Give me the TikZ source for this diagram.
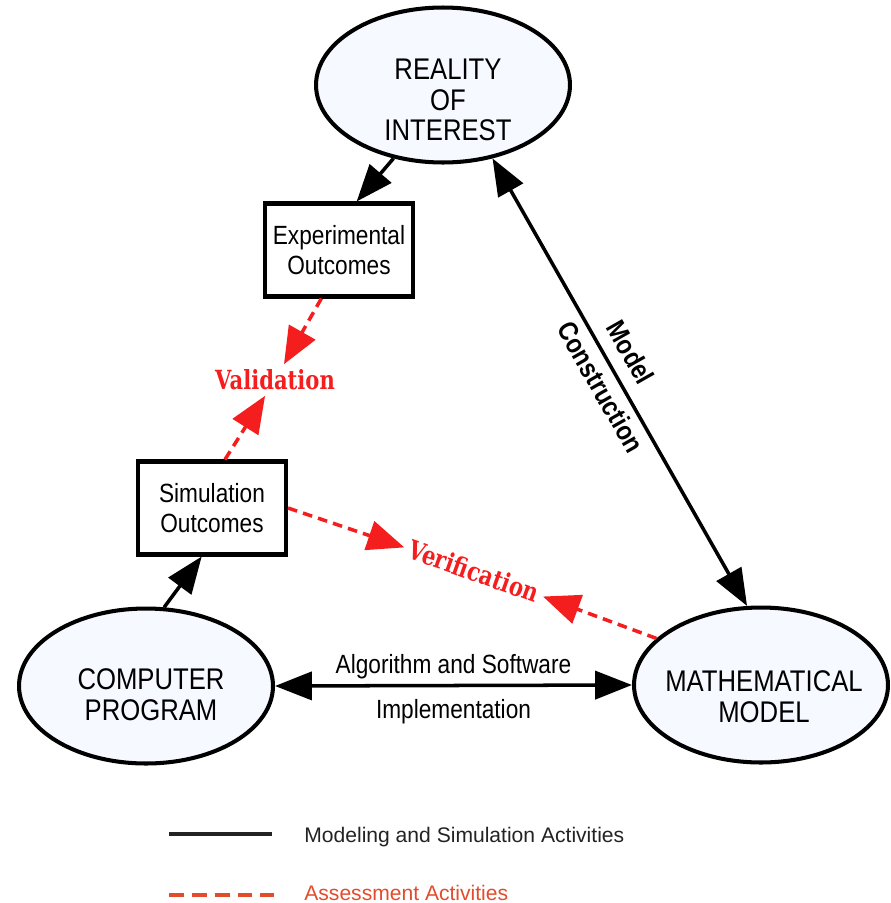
\documentclass[tikz,border=0pt]{standalone}
\usepackage{fontspec}
\setmainfont{Liberation Sans}
\newfontfamily\narrowfont{Liberation Sans}[FakeStretch=0.86]
\newfontfamily\stampfont{DejaVu Serif}[FakeStretch=0.8]
\usetikzlibrary{positioning, calc, shapes.geometric, arrows.meta}

\definecolor{bubblefill}{RGB}{246,249,255}
\definecolor{checkred}{RGB}{245,30,30}
\definecolor{keyred}{RGB}{226,76,44}
\definecolor{keytext}{RGB}{35,35,35}

\begin{document}
\begin{tikzpicture}[x=0.02cm, y=-0.02cm,
        bubble/.style={ellipse, draw, line width=2.3pt, fill=bubblefill, minimum width=5.08cm, minimum height=3.1cm, inner sep=0pt},
        bubbletext/.style={align=center, inner sep=0pt, font=\narrowfont\fontsize{17}{17.5}\selectfont},
        outbox/.style={rectangle, draw, line width=2.3pt, fill=white, minimum width=2.96cm, minimum height=1.86cm, align=center, font=\narrowfont\fontsize{15}{17}\selectfont},
        flow/.style={line width=2pt, -{Triangle[length=21pt, width=16pt]}},
        twoway/.style={line width=2pt, {Triangle[length=21pt, width=16pt]}-{Triangle[length=21pt, width=16pt]}},
        check/.style={checkred, line width=2pt, dash pattern=on 5.5pt off 3.5pt, -{Triangle[length=21pt, width=17pt]}},
        checklabel/.style={text=checkred, inner sep=3pt, font=\stampfont\bfseries\fontsize{15}{18}\selectfont},
        edgetext/.style={inner sep=1pt, font=\narrowfont\fontsize{15}{17}\selectfont},
        keylabel/.style={anchor=base west, inner sep=0pt, font=\fontsize{12}{14}\selectfont}]

        \useasboundingbox (0,0) rectangle (890,903);

        % the three models
        \node[bubble] (real) at (443,85) {};
        \node[bubbletext] (realtext) at (448,100) {REALITY\\OF\\INTEREST};
        \node[bubble] (comp) at (146,686) {};
        \node[bubbletext] (comptext) at (151,695) {COMPUTER\\PROGRAM};
        \node[bubble] (math) at (761,685) {};
        \node[bubbletext] (mathtext) at (764,697) {MATHEMATICAL\\MODEL};

        % outcomes
        \node[outbox] (exp) at (339,250) {Experimental\\Outcomes};
        \node[outbox] (sim) at (212,508) {Simulation\\Outcomes};

        % modeling and simulation activities
        \draw[flow] (real.-124) -- (exp.70);
        \draw[flow] (comp.77) -- (sim.-102);
        \draw[twoway] (comp.east) -- (math.west)
            node[midway, above=2pt, edgetext] {Algorithm and Software}
            node[midway, below=6pt, edgetext] {Implementation};
        \draw[twoway] (real.-56) -- (math.100)
            node[pos=0.46, sloped, above=6pt, edgetext, font=\narrowfont\bfseries\fontsize{15.5}{17}\selectfont] {Model}
            node[pos=0.49, sloped, below=3pt, edgetext, font=\narrowfont\bfseries\fontsize{15.5}{17}\selectfont] {Construction};

        % assessment activities
        \node[checklabel] (val) at (275,380) {Validation};
        \node[checklabel, rotate=-19.5] (ver) at (474,571) {Verification};
        \draw[check] (exp.250) -- (val);
        \draw[check] (sim.75) -- (val);
        \draw[check] (sim.east) -- (ver);
        \draw[check] (math.156) -- (ver);

        % legend
        \coordinate (keyA) at (169,834);
        \coordinate (keyB) at (272,834);
        \coordinate (keyC) at (169,895);
        \coordinate (keyD) at (274,895);
        \draw[keytext, line width=2.8pt] (keyA) -- (keyB);
        \draw[keyred, line width=2.8pt, dash pattern=on 8.5pt off 4.5pt] (keyC) -- (keyD);
        \node[keylabel, text=keytext] (keysim) at (304,842) {Modeling and Simulation Activities};
        \node[keylabel, text=keyred] (keyassess) at (304,900) {Assessment Activities};
\end{tikzpicture}
\end{document}
